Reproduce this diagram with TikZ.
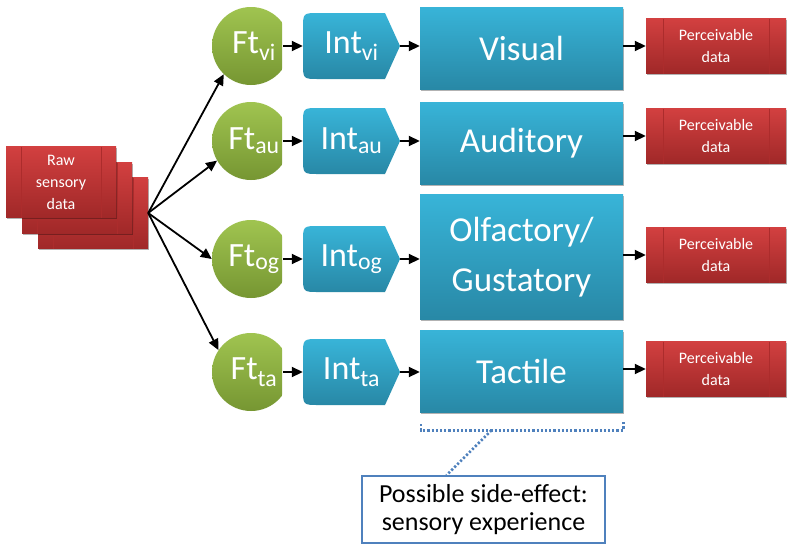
\documentclass[tikz,border=0pt]{standalone}
\usepackage{fontspec}
\setmainfont{Carlito}
\usetikzlibrary{arrows.meta,shadows}

\definecolor{ftTop}{RGB}{160,196,80}
\definecolor{ftBot}{RGB}{118,150,50}
\definecolor{intTop}{RGB}{56,180,216}
\definecolor{intBot}{RGB}{40,136,166}
\definecolor{redTop}{RGB}{210,64,64}
\definecolor{redBot}{RGB}{160,40,40}
\definecolor{redLine}{RGB}{172,44,44}
\definecolor{noteBlue}{RGB}{79,129,189}

\tikzset{
  arr/.style={-{Triangle[length=11pt,width=10pt]},line width=1.8pt,black},
  boxshadow/.style={drop shadow={shadow xshift=1pt,shadow yshift=-1.5pt,opacity=0.3,fill=black}},
  redbox/.style={rectangle,inner sep=0pt,top color=redTop,bottom color=redBot,
    text=white,align=center,boxshadow,
    path picture={
      \draw[redLine,line width=0.8pt] ([xshift=#1]path picture bounding box.north west) -- ([xshift=#1]path picture bounding box.south west);
      \draw[redLine,line width=0.8pt] ([xshift=-#1]path picture bounding box.north east) -- ([xshift=-#1]path picture bounding box.south east);
    }},
  rawbox/.style={redbox=15pt,minimum width=110pt,minimum height=71pt,
    font={\fontsize{16}{22}\selectfont}},
  percbox/.style={redbox=17pt,minimum width=140pt,minimum height=55pt,
    font={\fontsize{16}{22}\selectfont}},
  ftnode/.style={circle,minimum size=78pt,inner sep=0pt,text=white,
    font={\fontsize{34}{40}\selectfont},
    path picture={
      \clip (path picture bounding box.south west) rectangle ([xshift=-8pt]path picture bounding box.north east);
      \path[top color=ftTop,bottom color=ftBot] (path picture bounding box.south west) rectangle (path picture bounding box.north east);
    }},
  intnode/.style={rectangle,minimum width=97pt,minimum height=66pt,inner sep=0pt,text=white,
    font={\fontsize{34}{40}\selectfont},
    path picture={
      \path[top color=intTop,bottom color=intBot] (path picture bounding box.east)
        -- ([xshift=-15pt]path picture bounding box.north east)
        -- ([xshift=16pt]path picture bounding box.north west)
        .. controls (path picture bounding box.north west) .. ([yshift=-16pt]path picture bounding box.north west)
        -- ([yshift=16pt]path picture bounding box.south west)
        .. controls (path picture bounding box.south west) .. ([xshift=16pt]path picture bounding box.south west)
        -- ([xshift=-15pt]path picture bounding box.south east) -- cycle;
    }},
  modbox/.style={rectangle,minimum width=203pt,inner sep=0pt,top color=intTop,bottom color=intBot,
    text=white,align=center,boxshadow,font={\fontsize{35}{50}\selectfont}},
  notebox/.style={rectangle,minimum width=243pt,minimum height=67pt,inner sep=0pt,
    draw=noteBlue,line width=1.5pt,fill=white,align=center,
    font={\fontsize{26}{28}\selectfont}},
  sidefx/.style={noteBlue,line width=2.6pt,dash pattern=on 2.2pt off 2pt}
}

\begin{document}
\begin{tikzpicture}[x=1pt,y=-1pt]
\path[use as bounding box,fill=white] (0,0) rectangle (789,552);

% raw sensory data (stack)
\node[rawbox] (rawback) at (93,213) {};
\node[rawbox] (rawmid) at (77,198) {};
\node[rawbox] (rawfront) at (61,182) {Raw\\sensory\\data};

% feature extraction -> interpretation -> modality -> output
\foreach \nm/\yr/\yb/\hb/\yp/\ang/\lab in {
  vi/46/48/82/46/-134/Visual,
  au/141/143/82/136/-150/Auditory,
  og/259/257/125/255/180/{Olfactory/\\Gustatory},
  ta/372/371/82/369/146/Tactile}{
  \node[ftnode] (ft\nm) at (251,\yr) {\hspace*{6pt}Ft\textsubscript{\nm}};
  \node[intnode] (int\nm) at (351.5,\yr) {Int\textsubscript{\nm}};
  \node[modbox,minimum height=\hb pt] (box\nm) at (521.5,\yb) {\lab};
  \node[percbox] (perc\nm) at (716,\yp) {Perceivable\\data};
  \draw[arr] (rawback.east) -- (ft\nm.\ang);
  \draw[arr] ([xshift=-7pt]ft\nm.east) -- (int\nm.west);
  \draw[arr] (int\nm.east) -- (box\nm.west |- int\nm.east);
  \draw[arr] (box\nm.east |- perc\nm.west) -- (perc\nm.west);
}

% side effect
\coordinate (brk) at ([shift={(-30,18)}]boxta.south);
\draw[sidefx] ([shift={(1,12)}]boxta.south west) -- ([shift={(1,18)}]boxta.south west)
  -- ([yshift=-18pt]boxta.south east) -- ([yshift=-10pt]boxta.south east);
\node[notebox] (note) at (483.5,509.5) {Possible side-effect:\\sensory experience};
\draw[sidefx] (brk) -- ([xshift=-37pt]note.north);

\end{tikzpicture}
\end{document}
